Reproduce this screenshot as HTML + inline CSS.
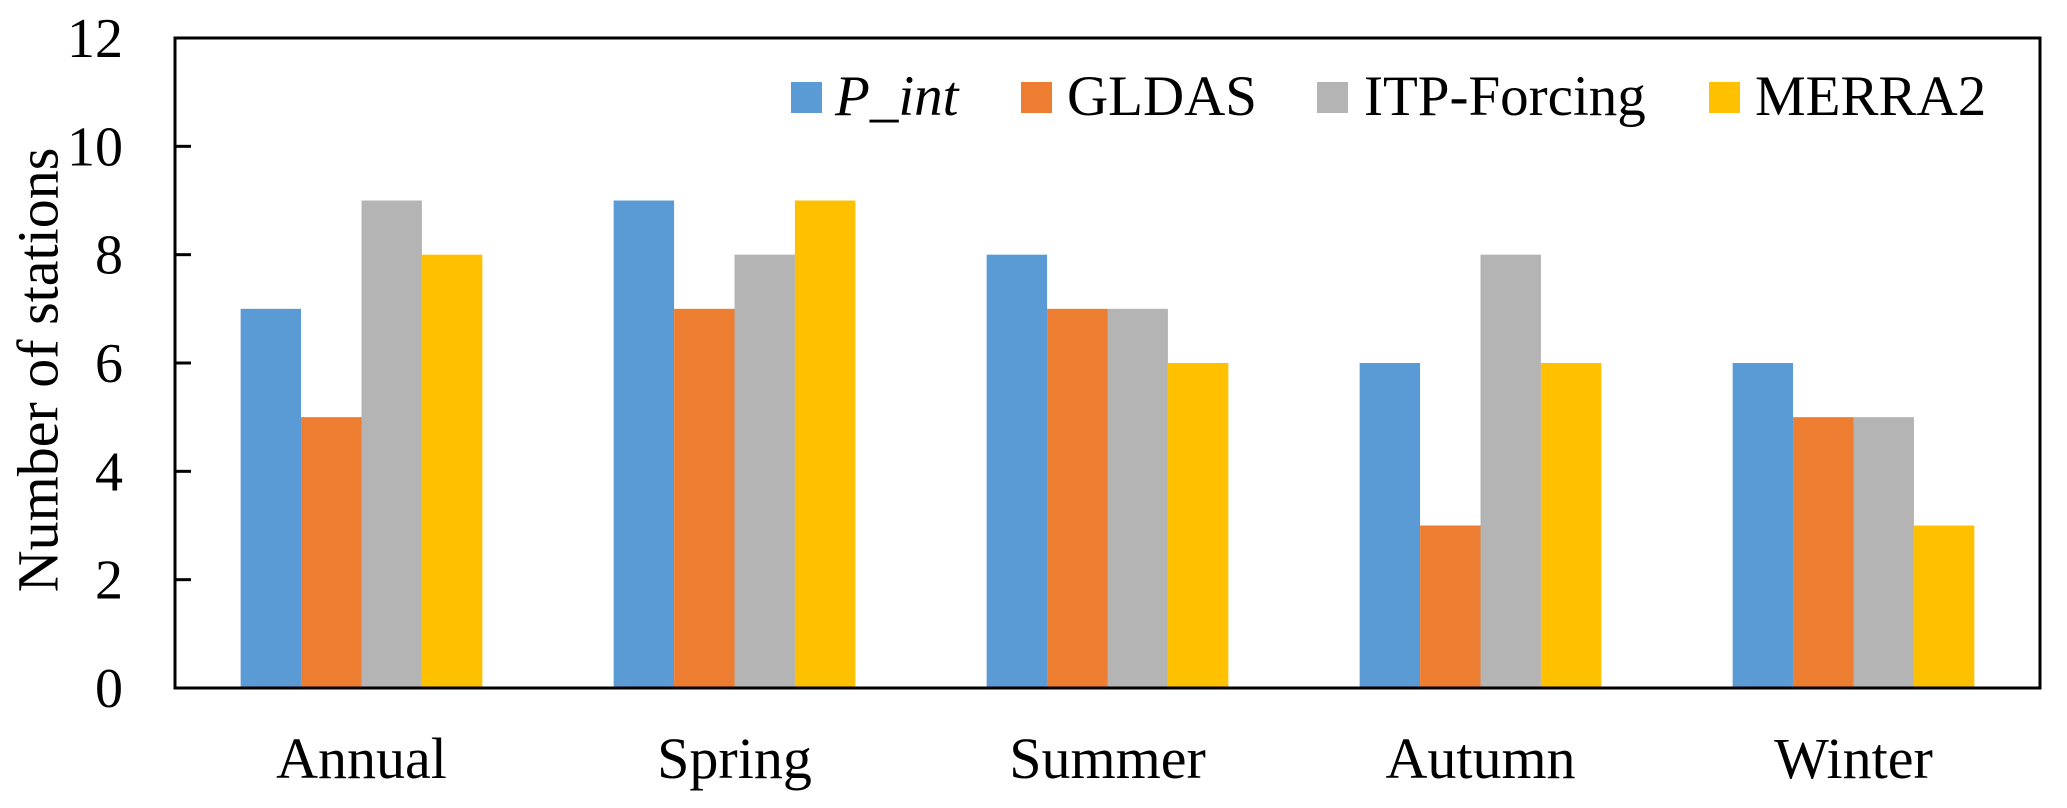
<!DOCTYPE html>
<html><head><meta charset="utf-8"><style>
html,body{margin:0;padding:0;background:#fff;}
svg{display:block;font-family:"Liberation Serif","Times New Roman",serif;}
</style></head><body>
<svg id="chart" width="2067" height="808" viewBox="0 0 2067 808">
<g id="bars"></g>
<g id="axes"></g>
<text x="38" y="370" font-size="58" text-anchor="middle" dominant-baseline="central" transform="rotate(-90 38 370)">Number of stations</text>
<g>
 <g><rect x="791" y="82" width="31" height="31" fill="#5B9BD5"/><text x="835" y="115" font-size="57" font-style="italic">P_int</text></g>
 <g><rect x="1021" y="82" width="31" height="31" fill="#ED7D31"/><text x="1067" y="115" font-size="57">GLDAS</text></g>
 <g><rect x="1317" y="82" width="31" height="31" fill="#B4B4B4"/><text x="1364" y="115" font-size="57">ITP-Forcing</text></g>
 <g><rect x="1709" y="82" width="31" height="31" fill="#FFC000"/><text x="1755" y="115" font-size="57">MERRA2</text></g>
</g>
</svg>
<script>
const categories = ["Annual","Spring","Summer","Autumn","Winter"];
const pInt = [7,9,8,6,6];
const gldas = [5,7,7,3,5];
const itpForcing = [9,8,7,8,5];
const merra2 = [8,9,6,6,3];
const yTicks = [0,2,4,6,8,10,12];

const NS="http://www.w3.org/2000/svg";
const L=175,R=2040,T=38,B=688,YMAX=12;
const catW=(R-L)/categories.length, barW=catW*0.162;
const y=v=>B-(v/YMAX)*(B-T);
const xCat=i=>L+catW*(i+0.5);
const series=[[pInt,"#5B9BD5","p-int"],[gldas,"#ED7D31","gldas"],[itpForcing,"#B4B4B4","itp-forcing"],[merra2,"#FFC000","merra2"]];
const bars=document.getElementById('bars'), axes=document.getElementById('axes');
function mk(t,a,p){const e=document.createElementNS(NS,t);for(const k in a)e.setAttribute(k,a[k]);p.appendChild(e);return e;}
series.forEach((s,si)=>{
  s[0].forEach((v,i)=>{
    const x=xCat(i)-2*barW+si*barW;
    const r=mk('rect',{x:x,y:y(v),width:barW,height:B-y(v),fill:s[1]},bars);
    
    
  });
});
const frame=mk('rect',{x:L,y:T,width:R-L,height:B-T,fill:'none',stroke:'#000','stroke-width':3},axes);


yTicks.forEach(v=>{
  const tk=mk('line',{x1:L,x2:L+16,y1:y(v),y2:y(v),stroke:'#000','stroke-width':3},axes);
  
  
  const t=mk('text',{x:123,y:y(v)+19,'font-size':56,'text-anchor':'end'},axes);
  t.textContent=v;
  
  
});
categories.forEach((c,i)=>{
  const t=mk('text',{x:xCat(i),y:778,'font-size':58,'text-anchor':'middle'},axes);
  t.textContent=c;
  
  
});
</script>
</body></html>
